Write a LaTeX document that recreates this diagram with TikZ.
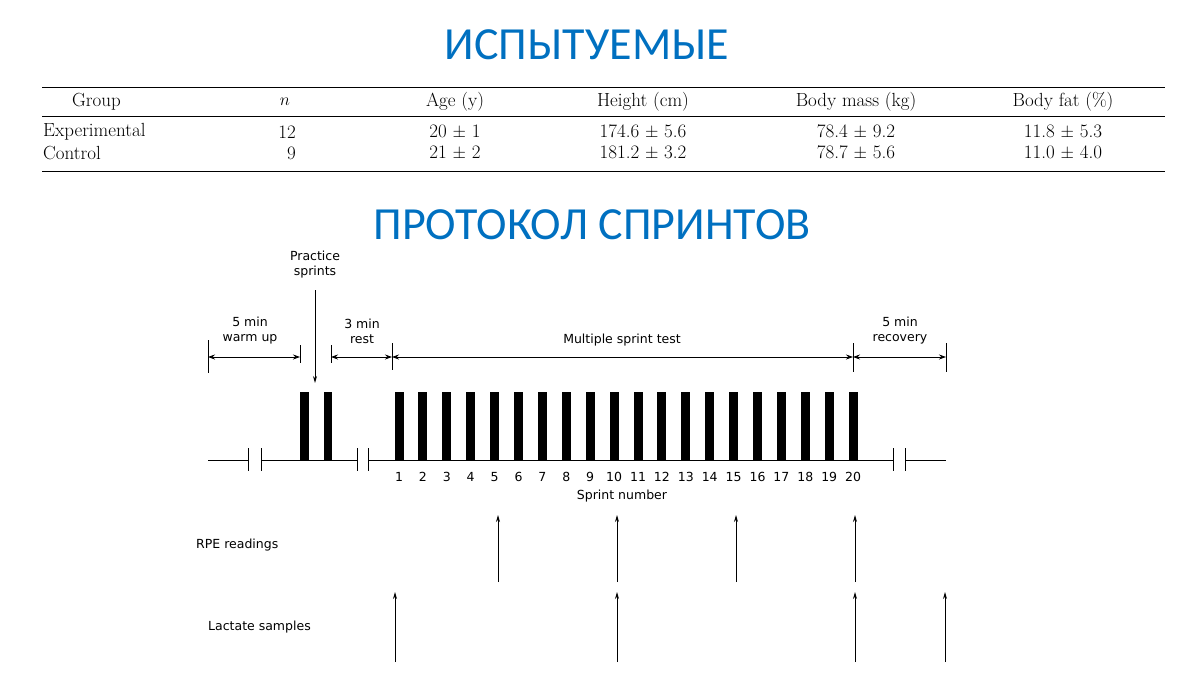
\documentclass[tikz,border=0pt]{standalone}
\usepackage{fontspec}
\newfontfamily\titlefont{Carlito}
\newfontfamily\dfont{DejaVu Sans}
\usetikzlibrary{arrows.meta}
\definecolor{ttl}{RGB}{0,112,192}
\begin{document}
\begin{tikzpicture}[x=1pt,y=-1pt,
  ttlstyle/.style={font=\titlefont\fontsize{46}{50}\selectfont,text=ttl},
  tab/.style={font=\fontsize{19}{22}\selectfont,inner sep=0pt},
  dtxt/.style={font=\dfont\fontsize{12.5}{15}\selectfont,inner sep=0pt},
  bar/.style={fill=black},
  dim/.style={line width=0.8pt,{Stealth[length=7pt,width=5pt]}-{Stealth[length=7pt,width=5pt]}},
  up/.style={line width=0.9pt,-{Stealth[length=7pt,width=4pt]}},
  tick/.style={line width=0.9pt}]
\useasboundingbox (0,0) rectangle (1200,675);
\node[ttlstyle] (t1) at (587,45) {ИСПЫТУЕМЫЕ};
\node[ttlstyle] (t2) at (592,225) {ПРОТОКОЛ СПРИНТОВ};
% table
\draw[line width=0.8pt] (42,87) -- (1165,87);
\draw[line width=0.5pt] (42,116) -- (1165,116);
\draw[line width=0.8pt] (42,171) -- (1165,171);
\node[tab,anchor=west] (h0) at (72,102) {Group};
\node[tab] (h1) at (285,102) {$n$};
\node[tab] (h2) at (455,102) {Age (y)};
\node[tab] (h3) at (643,102) {Height (cm)};
\node[tab] (h4) at (856,102) {Body mass (kg)};
\node[tab] (h5) at (1063,102) {Body fat (\%)};
\node[tab,anchor=west] (a0) at (43,132) {Experimental};
\node[tab,anchor=east] (a1) at (296,132) {12};
\node[tab] (a2) at (455,132) {20 $\pm$ 1};
\node[tab] (a3) at (643,132) {174.6 $\pm$ 5.6};
\node[tab] (a4) at (856,132) {78.4 $\pm$ 9.2};
\node[tab] (a5) at (1063,132) {11.8 $\pm$ 5.3};
\node[tab,anchor=west] (b0) at (43,153) {Control};
\node[tab,anchor=east] (b1) at (296,153) {9};
\node[tab] (b2) at (455,153) {21 $\pm$ 2};
\node[tab] (b3) at (643,153) {181.2 $\pm$ 3.2};
\node[tab] (b4) at (856,153) {78.7 $\pm$ 5.6};
\node[tab] (b5) at (1063,153) {11.0 $\pm$ 4.0};
% baseline with breaks
\draw[tick] (208,460) -- (248,460) (261,460) -- (357,460) (368,460) -- (893,460) (905,460) -- (946,460);
\foreach \x in {248,261,357,368,893,905} \draw[tick] (\x,448) -- (\x,471);
% bars
\fill (300,392) rectangle (309,460);
\fill (324,392) rectangle (332,460);
\foreach \i in {1,...,20} {
  \pgfmathsetmacro{\cx}{399+(\i-1)*23.9}
  \fill (\cx-4.5,392) rectangle (\cx+4.5,460);
  \node[dtxt] (n\i) at (\cx,477) {\i};
}
\node[dtxt] (sn) at (622,496) {Sprint number};
% dimension lines
\foreach \x/\a/\b in {208/340/373,300/345/363,331/345/363,392/343/370,853/343/372,946/343/372} \draw[tick] (\x,\a) -- (\x,\b);
\coordinate (w1) at (208,357); \coordinate (w2) at (300,357);
\coordinate (r1) at (331,357); \coordinate (r2) at (392,357);
\coordinate (m2) at (853,357); \coordinate (c2) at (946,357);
\draw[dim] (w1) -- (w2);
\draw[dim] (r1) -- (r2);
\draw[dim] (r2) -- (m2);
\draw[dim] (m2) -- (c2);
\node[dtxt,align=center] (lw) at (250,331) {5 min\\warm up};
\node[dtxt,align=center] (lr) at (362,331) {3 min\\rest};
\node[dtxt] (lm) at (622,340) {Multiple sprint test};
\node[dtxt,align=center] (lc) at (900,331) {5 min\\recovery};
\node[dtxt,align=center] (lp) at (315,265) {Practice\\sprints};
\coordinate (pa) at (315,383);
\draw[up] (315,290) -- (pa);
% RPE and lactate
\node[dtxt,anchor=west] (rpe) at (196,545) {RPE readings};
\node[dtxt,anchor=west] (lac) at (208,627) {Lactate samples};
\foreach \x in {498,617,736,855} \draw[up] (\x,582) -- (\x,515);
\foreach \x in {395,617,855,945} \draw[up] (\x,662) -- (\x,592);
\end{tikzpicture}
\end{document}
